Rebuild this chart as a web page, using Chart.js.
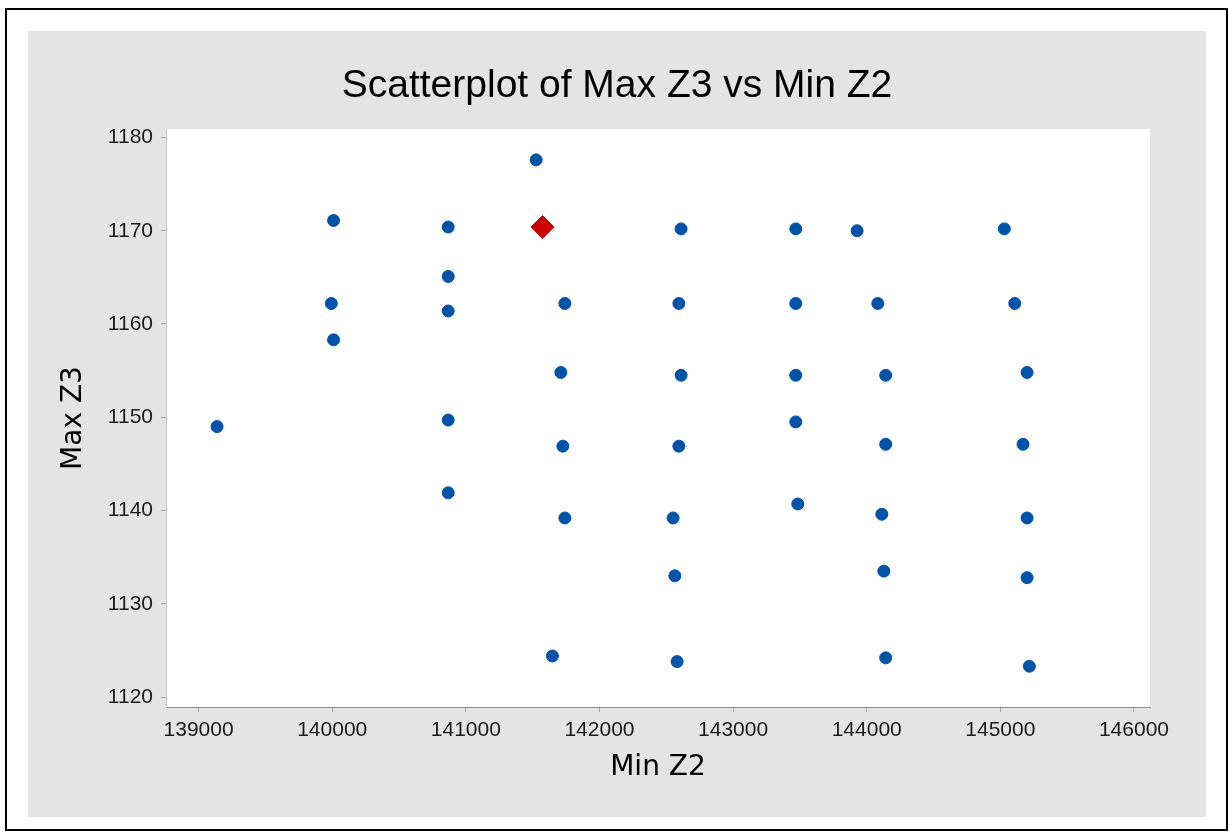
<!DOCTYPE html>
<html>
<head>
<meta charset="utf-8">
<script src="https://cdn.jsdelivr.net/npm/chart.js@4"></script>
<style>
  html, body { margin: 0; padding: 0; background: #ffffff; }
  body { width: 1229px; height: 834px; position: relative; overflow: hidden; }
  #frame { position: absolute; left: 5px; top: 8px; width: 1223px; height: 823px; box-sizing: border-box; border: 2px solid #000; }
  #panel { position: absolute; left: 28px; top: 31px; width: 1178px; height: 786px; background: #e4e4e4; }
</style>
</head>
<body>
<div id="frame"></div>
<div id="panel"><canvas id="c"></canvas></div>
<script>
// ---- data ----
const minZ2 = [
  139138, 140010, 139993, 140010,
  140868, 140868, 140868, 140868, 140868,
  141526,
  141741, 141711, 141726, 141741, 141648,
  142611, 142594, 142611, 142594, 142551, 142564, 142581,
  143469, 143469, 143469, 143469, 143484,
  143928,
  144083, 144142, 144142, 144113, 144128, 144142,
  145030, 145108, 145200, 145170, 145200, 145200, 145217
];
const maxZ3 = [
  1149.0, 1171.1, 1162.2, 1158.3,
  1170.4, 1165.1, 1161.4, 1149.7, 1141.9,
  1177.6,
  1162.2, 1154.8, 1146.9, 1139.2, 1124.4,
  1170.2, 1162.2, 1154.5, 1146.9, 1139.2, 1133.0, 1123.8,
  1170.2, 1162.2, 1154.5, 1149.5, 1140.7,
  1170.0,
  1162.2, 1154.5, 1147.1, 1139.6, 1133.5, 1124.2,
  1170.2, 1162.2, 1154.8, 1147.1, 1139.2, 1132.8, 1123.3
];
const highlightMinZ2 = [141574];
const highlightMaxZ3 = [1170.4];
const xTicks = [139000, 140000, 141000, 142000, 143000, 144000, 145000, 146000];
const yTicks = [1120, 1130, 1140, 1150, 1160, 1170, 1180];
const xRange = [138756, 146120];
const yRange = [1118.93, 1180.91];
const chartTitle = 'Scatterplot of Max Z3 vs Min Z2';
const xTitle = 'Min Z2';
const yTitle = 'Max Z3';

const plotBg = {
  id: 'plotBg',
  beforeDraw(chart) {
    const { ctx, chartArea } = chart;
    ctx.save();
    ctx.fillStyle = '#ffffff';
    ctx.fillRect(chartArea.left, chartArea.top, chartArea.right - chartArea.left, chartArea.bottom - chartArea.top);
    ctx.restore();
  }
};

new Chart(document.getElementById('c'), {
  type: 'scatter',
  data: {
    datasets: [
      {
        label: 'Max Z3',
        data: minZ2.map((x, i) => ({ x: x, y: maxZ3[i] })),
        pointStyle: 'circle',
        pointRadius: 6,
        pointBorderWidth: 1,
        backgroundColor: '#0053a6',
        borderColor: '#0053a6',
        order: 2
      },
      {
        label: 'Highlighted',
        data: highlightMinZ2.map((x, i) => ({ x: x, y: highlightMaxZ3[i] })),
        pointStyle: 'rectRot',
        pointRadius: 11.5,
        pointBorderWidth: 1,
        backgroundColor: '#cc0000',
        borderColor: '#cc0000',
        order: 1
      }
    ]
  },
  plugins: [plotBg],
  options: {
    responsive: true,
    maintainAspectRatio: false,
    animation: false,
    events: [],
    layout: { padding: 0 },
    plugins: {
      legend: { display: false },
      tooltip: { enabled: false },
      title: {
        display: true,
        text: chartTitle,
        color: '#000000',
        font: { family: "'Liberation Sans', Arial, sans-serif", size: 39, weight: 'normal', lineHeight: 1.2 },
        padding: { top: 32.1, bottom: 19.1 }
      }
    },
    scales: {
      x: {
        type: 'linear',
        position: 'bottom',
        min: xRange[0],
        max: xRange[1],
        afterBuildTicks(scale) { scale.ticks = xTicks.map(v => ({ value: v })); },
        afterFit(scale) { scale.height = 110; },
        border: { display: true, color: '#8c8c8c', width: 1 },
        grid: { display: true, drawOnChartArea: false, drawTicks: true, tickLength: 5, color: '#a6a6a6' },
        ticks: {
          color: '#1a1a1a',
          padding: 6,
          maxRotation: 0,
          autoSkip: false,
          font: { family: "'Liberation Sans', Arial, sans-serif", size: 21 },
          callback: (v) => String(v)
        },
        title: {
          display: true,
          text: xTitle,
          color: '#000000',
          font: { family: "'DejaVu Sans', sans-serif", size: 28, weight: 'normal', lineHeight: 1.2 },
          padding: { top: 0, bottom: 32.7 }
        }
      },
      y: {
        type: 'linear',
        position: 'left',
        min: yRange[0],
        max: yRange[1],
        afterBuildTicks(scale) { scale.ticks = yTicks.map(v => ({ value: v })); },
        afterFit(scale) { scale.width = 138; },
        border: { display: true, color: '#c4c4c4', width: 1 },
        grid: { display: true, drawOnChartArea: false, drawTicks: true, tickLength: 5, color: '#a6a6a6' },
        ticks: {
          color: '#1a1a1a',
          padding: 8,
          autoSkip: false,
          font: { family: "'Liberation Sans', Arial, sans-serif", size: 21 },
          callback: (v) => String(v)
        },
        title: {
          display: true,
          text: yTitle,
          color: '#000000',
          font: { family: "'DejaVu Sans', sans-serif", size: 28, weight: 'normal', lineHeight: 1.2 },
          padding: { top: 29.2, bottom: 0 }
        }
      },
      rightMargin: {
        type: 'linear',
        position: 'right',
        display: true,
        min: 0,
        max: 1,
        afterFit(scale) { scale.width = 56; },
        border: { display: false },
        grid: { display: false, drawTicks: false },
        ticks: { display: false },
        title: { display: false }
      }
    }
  }
});
</script>
</body>
</html>
